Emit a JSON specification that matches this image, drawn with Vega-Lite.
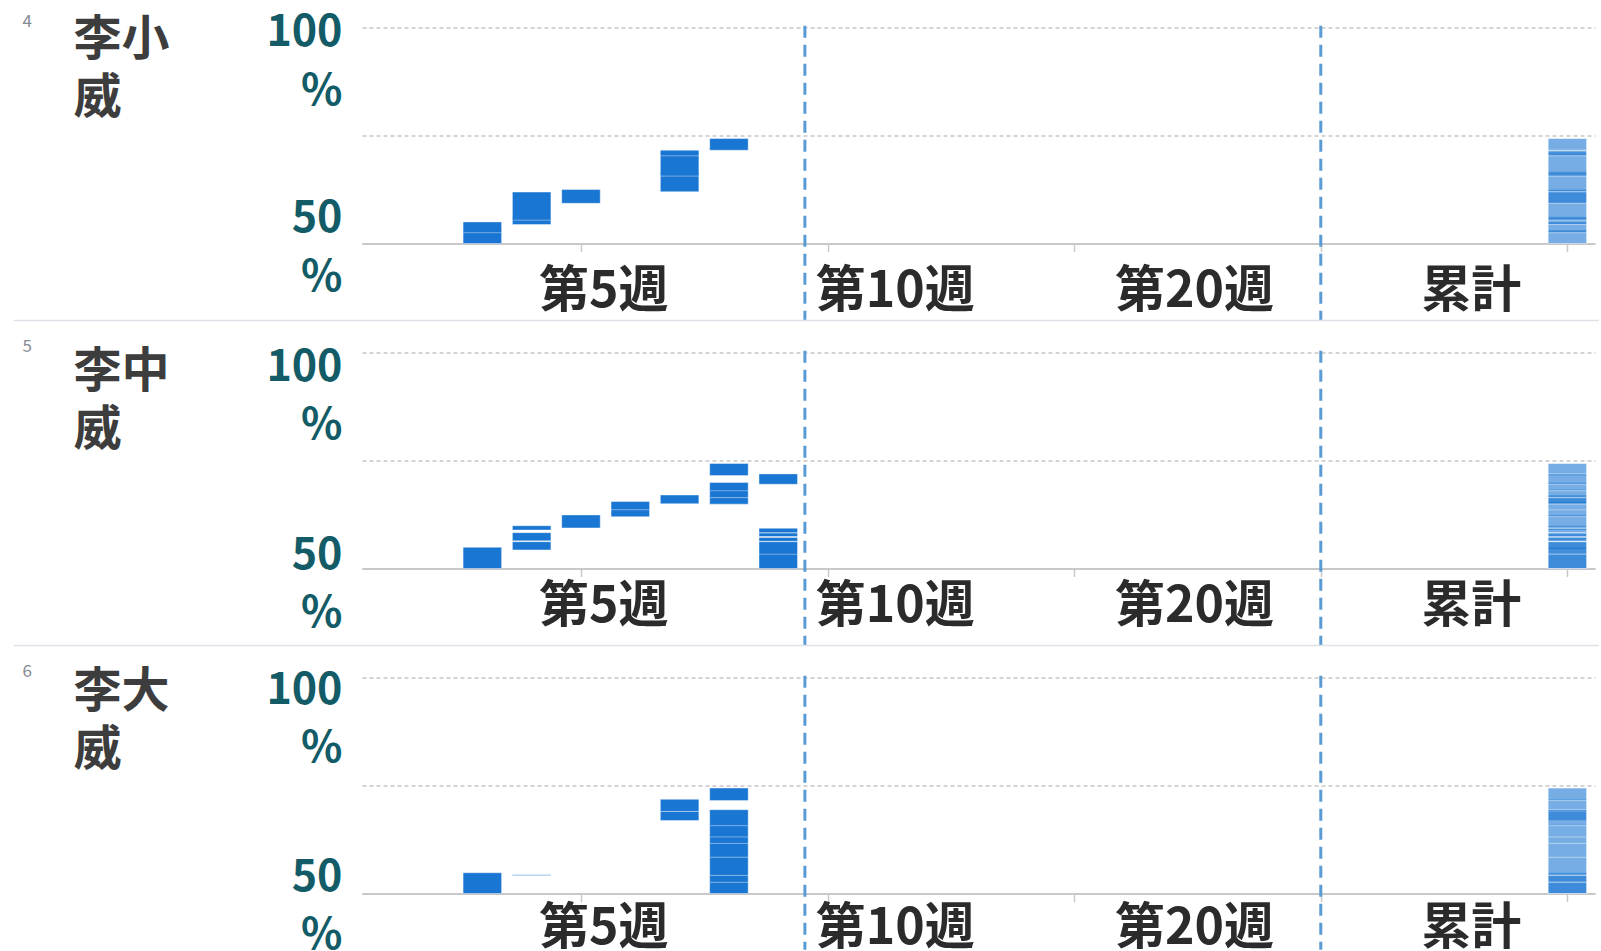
{
  "$schema": "https://vega.github.io/schema/vega-lite/v6.json",
  "background": "white",
  "padding": {"left": 13, "top": 11.5, "right": 0, "bottom": 0},
  "config": {
    "font": "Noto Sans CJK JP",
    "view": {"stroke": null}
  },
  "datasets": {
    "people": [
      {"rank": 4, "person": "李小威"},
      {"rank": 5, "person": "李中威"},
      {"rank": 6, "person": "李大威"}
    ],
    "seps": [{"boundary": 9.54}, {"boundary": 20}],
    "segs": [
      {"person": "李小威", "week": 3, "lo": 50, "hi": 53.1},
      {"person": "李小威", "week": 3, "lo": 52.5, "hi": 55.0},
      {"person": "李小威", "week": 4, "lo": 54.4, "hi": 56.2},
      {"person": "李小威", "week": 4, "lo": 55.4, "hi": 61.9},
      {"person": "李小威", "week": 5, "lo": 59.3, "hi": 62.5},
      {"person": "李小威", "week": 7, "lo": 62.0, "hi": 66.6},
      {"person": "李小威", "week": 7, "lo": 65.6, "hi": 71.2},
      {"person": "李小威", "week": 7, "lo": 70.3, "hi": 71.6},
      {"person": "李小威", "week": 8, "lo": 71.6, "hi": 74.3},

      {"person": "李中威", "week": 3, "lo": 50, "hi": 54.9},
      {"person": "李中威", "week": 4, "lo": 54.3, "hi": 56.2},
      {"person": "李中威", "week": 4, "lo": 56.4, "hi": 58.3},
      {"person": "李中威", "week": 4, "lo": 58.9, "hi": 59.9},
      {"person": "李中威", "week": 5, "lo": 59.4, "hi": 62.4},
      {"person": "李中威", "week": 6, "lo": 62.0, "hi": 63.8},
      {"person": "李中威", "week": 6, "lo": 63.6, "hi": 65.5},
      {"person": "李中威", "week": 7, "lo": 65.0, "hi": 67.0},
      {"person": "李中威", "week": 8, "lo": 64.9, "hi": 66.5},
      {"person": "李中威", "week": 8, "lo": 66.4, "hi": 68.3},
      {"person": "李中威", "week": 8, "lo": 68.0, "hi": 69.9},
      {"person": "李中威", "week": 8, "lo": 71.5, "hi": 74.3},
      {"person": "李中威", "week": 9, "lo": 50, "hi": 53.5},
      {"person": "李中威", "week": 9, "lo": 53.3, "hi": 56.2},
      {"person": "李中威", "week": 9, "lo": 56.3, "hi": 57.2},
      {"person": "李中威", "week": 9, "lo": 57.4, "hi": 58.2},
      {"person": "李中威", "week": 9, "lo": 58.3, "hi": 59.3},
      {"person": "李中威", "week": 9, "lo": 69.5, "hi": 71.9},

      {"person": "李大威", "week": 3, "lo": 50, "hi": 54.8},
      {"person": "李大威", "week": 4, "lo": 54.15, "hi": 54.35},
      {"person": "李大威", "week": 7, "lo": 66.9, "hi": 69.0},
      {"person": "李大威", "week": 7, "lo": 69.0, "hi": 71.8},
      {"person": "李大威", "week": 8, "lo": 50, "hi": 52.7},
      {"person": "李大威", "week": 8, "lo": 52.6, "hi": 54.3},
      {"person": "李大威", "week": 8, "lo": 54.2, "hi": 58.5},
      {"person": "李大威", "week": 8, "lo": 58.4, "hi": 61.7},
      {"person": "李大威", "week": 8, "lo": 61.6, "hi": 63.2},
      {"person": "李大威", "week": 8, "lo": 63.1, "hi": 65.9},
      {"person": "李大威", "week": 8, "lo": 65.7, "hi": 69.4},
      {"person": "李大威", "week": 8, "lo": 71.5, "hi": 74.4}
    ]
  },
  "vconcat": [
    {
      "width": 1233, "height": 216,
      "resolve": {"axis": {"x": "independent", "y": "independent"}},
      "layer": [
        {
          "data": {"name": "segs"},
          "transform": [{"filter": "datum.person == '李小威'"}],
          "mark": {"type": "bar", "size": 38.5, "color": "#1976d2", "stroke": "white", "strokeWidth": 1, "strokeOpacity": 0.4},
          "encoding": {
            "x": {"field": "week", "type": "quantitative", "scale": {"domain": [0.56, 25.56], "nice": false, "zero": false, "padding": 0},
              "axis": {"orient": "bottom", "values": [5, 10, 15, 20, 25], "labels": false, "title": null, "grid": false,
                "domainColor": "#c8c8c8", "domainWidth": 2.2, "tickColor": "#c8c8c8", "tickWidth": 1.5, "tickSize": 8}
            },
            "y": {"field": "lo", "type": "quantitative", "scale": {"domain": [50, 100], "nice": false, "zero": false, "padding": 0},
              "axis": {"orient": "left", "values": [50, 75, 100], "labels": false,
                "title": ["李小", "威"], "titleAngle": 0, "titleAlign": "left", "titleBaseline": "top",
                "titleX": -289, "titleY": -11, "titleFontSize": 48, "titleFontWeight": "bold", "titleColor": "#3d3d3d", "titleLineHeight": 58,
                "grid": true, "gridColor": "#c6c6c6", "gridDash": [4, 3], "gridWidth": 1.5,
                "domain": false, "ticks": false, "tickSize": 0}
            },
            "y2": {"field": "hi"}
          }
        },
        {
          "data": {"name": "segs"},
          "transform": [{"filter": "datum.person == '李小威'"}],
          "mark": {"type": "bar", "size": 38.5, "color": "#1976d2", "fillOpacity": 0.6, "stroke": "white", "strokeWidth": 1, "strokeOpacity": 0.5},
          "encoding": {
            "x": {"datum": 25, "type": "quantitative", "scale": {"domain": [0.56, 25.56], "nice": false, "zero": false, "padding": 0},
              "axis": {"orient": "bottom", "values": [5.45, 11.36, 17.43, 23.04],
                "labelExpr": "datum.value < 6 ? '第5週' : datum.value < 12 ? '第10週' : datum.value < 18 ? '第20週' : '累計'",
                "title": null, "grid": false, "domain": false, "ticks": false, "tickSize": 0,
                "labelFontSize": 50, "labelFontWeight": "bold", "labelColor": "#2b2b2b",
                "labelPadding": 22.5, "labelOverlap": false, "labelFlush": false, "labelBound": false}
            },
            "y": {"field": "lo", "type": "quantitative", "scale": {"domain": [50, 100], "nice": false, "zero": false, "padding": 0},
              "axis": {"orient": "left", "values": [50, 92.95],
                "labelExpr": "datum.value > 70 ? ['100', '%'] : ['50', '%']",
                "title": null, "grid": false, "domain": false, "ticks": false, "tickSize": 0,
                "labelFontSize": 43, "labelFontWeight": "bold", "labelColor": "#135b66", "labelLineHeight": 59,
                "labelPadding": 20, "labelOffset": -25, "labelOverlap": false, "labelFlush": false, "labelBound": false}
            },
            "y2": {"field": "hi"}
          }
        },
        {
          "data": {"name": "seps"},
          "mark": {"type": "rule", "color": "#5b9bd5", "strokeWidth": 3, "strokeDash": [12, 7]},
          "encoding": {
            "x": {"field": "boundary", "type": "quantitative", "scale": {"domain": [0.56, 25.56], "nice": false, "zero": false, "padding": 0}, "axis": null},
            "y": {"datum": 100.4, "type": "quantitative", "scale": {"domain": [50, 100], "nice": false, "zero": false, "padding": 0}, "axis": null},
            "y2": {"datum": 32.2}
          }
        },
        {
          "data": {"name": "people"},
          "transform": [{"filter": "datum.person == '李小威'"}],
          "mark": {"type": "text", "fontSize": 17, "color": "#858b93", "align": "center", "baseline": "middle"},
          "encoding": {
            "text": {"field": "rank"},
            "x": {"datum": -6.23, "type": "quantitative", "scale": {"domain": [0.56, 25.56], "nice": false, "zero": false, "padding": 0}, "axis": null},
            "y": {"datum": 101.2, "type": "quantitative", "scale": {"domain": [50, 100], "nice": false, "zero": false, "padding": 0}, "axis": null}
          }
        },
        {
          "data": {"name": "people"},
          "transform": [{"filter": "datum.person == '李小威'"}],
          "mark": {"type": "rule", "color": "#dde2e8", "strokeWidth": 1.5},
          "encoding": {
            "x": {"datum": -6.5, "type": "quantitative", "scale": {"domain": [0.56, 25.56], "nice": false, "zero": false, "padding": 0}, "axis": null},
            "x2": {"datum": 25.64},
            "y": {"datum": 32.2, "type": "quantitative", "scale": {"domain": [50, 100], "nice": false, "zero": false, "padding": 0}, "axis": null}
          }
        }
      ]
    },
    {
      "width": 1233, "height": 216,
      "resolve": {"axis": {"x": "independent", "y": "independent"}},
      "layer": [
        {
          "data": {"name": "segs"},
          "transform": [{"filter": "datum.person == '李中威'"}],
          "mark": {"type": "bar", "size": 38.5, "color": "#1976d2", "stroke": "white", "strokeWidth": 1, "strokeOpacity": 0.4},
          "encoding": {
            "x": {"field": "week", "type": "quantitative", "scale": {"domain": [0.56, 25.56], "nice": false, "zero": false, "padding": 0},
              "axis": {"orient": "bottom", "values": [5, 10, 15, 20, 25], "labels": false, "title": null, "grid": false,
                "domainColor": "#c8c8c8", "domainWidth": 2.2, "tickColor": "#c8c8c8", "tickWidth": 1.5, "tickSize": 8}
            },
            "y": {"field": "lo", "type": "quantitative", "scale": {"domain": [50, 100], "nice": false, "zero": false, "padding": 0},
              "axis": {"orient": "left", "values": [50, 75, 100], "labels": false,
                "title": ["李中", "威"], "titleAngle": 0, "titleAlign": "left", "titleBaseline": "top",
                "titleX": -289, "titleY": -4.5, "titleFontSize": 48, "titleFontWeight": "bold", "titleColor": "#3d3d3d", "titleLineHeight": 58,
                "grid": true, "gridColor": "#c6c6c6", "gridDash": [4, 3], "gridWidth": 1.5,
                "domain": false, "ticks": false, "tickSize": 0}
            },
            "y2": {"field": "hi"}
          }
        },
        {
          "data": {"name": "segs"},
          "transform": [{"filter": "datum.person == '李中威'"}],
          "mark": {"type": "bar", "size": 38.5, "color": "#1976d2", "fillOpacity": 0.6, "stroke": "white", "strokeWidth": 1, "strokeOpacity": 0.5},
          "encoding": {
            "x": {"datum": 25, "type": "quantitative", "scale": {"domain": [0.56, 25.56], "nice": false, "zero": false, "padding": 0},
              "axis": {"orient": "bottom", "values": [5.45, 11.36, 17.43, 23.04],
                "labelExpr": "datum.value < 6 ? '第5週' : datum.value < 12 ? '第10週' : datum.value < 18 ? '第20週' : '累計'",
                "title": null, "grid": false, "domain": false, "ticks": false, "tickSize": 0,
                "labelFontSize": 50, "labelFontWeight": "bold", "labelColor": "#2b2b2b",
                "labelPadding": 12.5, "labelOverlap": false, "labelFlush": false, "labelBound": false}
            },
            "y": {"field": "lo", "type": "quantitative", "scale": {"domain": [50, 100], "nice": false, "zero": false, "padding": 0},
              "axis": {"orient": "left", "values": [50, 93.47],
                "labelExpr": "datum.value > 70 ? ['100', '%'] : ['50', '%']",
                "title": null, "grid": false, "domain": false, "ticks": false, "tickSize": 0,
                "labelFontSize": 43, "labelFontWeight": "bold", "labelColor": "#135b66", "labelLineHeight": 58,
                "labelPadding": 20, "labelOffset": -13, "labelOverlap": false, "labelFlush": false, "labelBound": false}
            },
            "y2": {"field": "hi"}
          }
        },
        {
          "data": {"name": "seps"},
          "mark": {"type": "rule", "color": "#5b9bd5", "strokeWidth": 3, "strokeDash": [12, 7]},
          "encoding": {
            "x": {"field": "boundary", "type": "quantitative", "scale": {"domain": [0.56, 25.56], "nice": false, "zero": false, "padding": 0}, "axis": null},
            "y": {"datum": 100.4, "type": "quantitative", "scale": {"domain": [50, 100], "nice": false, "zero": false, "padding": 0}, "axis": null},
            "y2": {"datum": 32.2}
          }
        },
        {
          "data": {"name": "people"},
          "transform": [{"filter": "datum.person == '李中威'"}],
          "mark": {"type": "text", "fontSize": 17, "color": "#858b93", "align": "center", "baseline": "middle"},
          "encoding": {
            "text": {"field": "rank"},
            "x": {"datum": -6.23, "type": "quantitative", "scale": {"domain": [0.56, 25.56], "nice": false, "zero": false, "padding": 0}, "axis": null},
            "y": {"datum": 101.2, "type": "quantitative", "scale": {"domain": [50, 100], "nice": false, "zero": false, "padding": 0}, "axis": null}
          }
        },
        {
          "data": {"name": "people"},
          "transform": [{"filter": "datum.person == '李中威'"}],
          "mark": {"type": "rule", "color": "#dde2e8", "strokeWidth": 1.5},
          "encoding": {
            "x": {"datum": -6.5, "type": "quantitative", "scale": {"domain": [0.56, 25.56], "nice": false, "zero": false, "padding": 0}, "axis": null},
            "x2": {"datum": 25.64},
            "y": {"datum": 32.2, "type": "quantitative", "scale": {"domain": [50, 100], "nice": false, "zero": false, "padding": 0}, "axis": null}
          }
        }
      ]
    },
    {
      "width": 1233, "height": 216,
      "resolve": {"axis": {"x": "independent", "y": "independent"}},
      "layer": [
        {
          "data": {"name": "segs"},
          "transform": [{"filter": "datum.person == '李大威'"}],
          "mark": {"type": "bar", "size": 38.5, "color": "#1976d2", "stroke": "white", "strokeWidth": 1, "strokeOpacity": 0.4},
          "encoding": {
            "x": {"field": "week", "type": "quantitative", "scale": {"domain": [0.56, 25.56], "nice": false, "zero": false, "padding": 0},
              "axis": {"orient": "bottom", "values": [5, 10, 15, 20, 25], "labels": false, "title": null, "grid": false,
                "domainColor": "#c8c8c8", "domainWidth": 2.2, "tickColor": "#c8c8c8", "tickWidth": 1.5, "tickSize": 8}
            },
            "y": {"field": "lo", "type": "quantitative", "scale": {"domain": [50, 100], "nice": false, "zero": false, "padding": 0},
              "axis": {"orient": "left", "values": [50, 75, 100], "labels": false,
                "title": ["李大", "威"], "titleAngle": 0, "titleAlign": "left", "titleBaseline": "top",
                "titleX": -289, "titleY": -9.5, "titleFontSize": 48, "titleFontWeight": "bold", "titleColor": "#3d3d3d", "titleLineHeight": 58,
                "grid": true, "gridColor": "#c6c6c6", "gridDash": [4, 3], "gridWidth": 1.5,
                "domain": false, "ticks": false, "tickSize": 0}
            },
            "y2": {"field": "hi"}
          }
        },
        {
          "data": {"name": "segs"},
          "transform": [{"filter": "datum.person == '李大威'"}],
          "mark": {"type": "bar", "size": 38.5, "color": "#1976d2", "fillOpacity": 0.6, "stroke": "white", "strokeWidth": 1, "strokeOpacity": 0.5},
          "encoding": {
            "x": {"datum": 25, "type": "quantitative", "scale": {"domain": [0.56, 25.56], "nice": false, "zero": false, "padding": 0},
              "axis": {"orient": "bottom", "values": [5.45, 11.36, 17.43, 23.04],
                "labelExpr": "datum.value < 6 ? '第5週' : datum.value < 12 ? '第10週' : datum.value < 18 ? '第20週' : '累計'",
                "title": null, "grid": false, "domain": false, "ticks": false, "tickSize": 0,
                "labelFontSize": 50, "labelFontWeight": "bold", "labelColor": "#2b2b2b",
                "labelPadding": 9.5, "labelOverlap": false, "labelFlush": false, "labelBound": false}
            },
            "y": {"field": "lo", "type": "quantitative", "scale": {"domain": [50, 100], "nice": false, "zero": false, "padding": 0},
              "axis": {"orient": "left", "values": [50, 93.24],
                "labelExpr": "datum.value > 70 ? ['100', '%'] : ['50', '%']",
                "title": null, "grid": false, "domain": false, "ticks": false, "tickSize": 0,
                "labelFontSize": 43, "labelFontWeight": "bold", "labelColor": "#135b66", "labelLineHeight": 58,
                "labelPadding": 20, "labelOffset": -16.5, "labelOverlap": false, "labelFlush": false, "labelBound": false}
            },
            "y2": {"field": "hi"}
          }
        },
        {
          "data": {"name": "seps"},
          "mark": {"type": "rule", "color": "#5b9bd5", "strokeWidth": 3, "strokeDash": [12, 7]},
          "encoding": {
            "x": {"field": "boundary", "type": "quantitative", "scale": {"domain": [0.56, 25.56], "nice": false, "zero": false, "padding": 0}, "axis": null},
            "y": {"datum": 100.4, "type": "quantitative", "scale": {"domain": [50, 100], "nice": false, "zero": false, "padding": 0}, "axis": null},
            "y2": {"datum": 37}
          }
        },
        {
          "data": {"name": "people"},
          "transform": [{"filter": "datum.person == '李大威'"}],
          "mark": {"type": "text", "fontSize": 17, "color": "#858b93", "align": "center", "baseline": "middle"},
          "encoding": {
            "text": {"field": "rank"},
            "x": {"datum": -6.23, "type": "quantitative", "scale": {"domain": [0.56, 25.56], "nice": false, "zero": false, "padding": 0}, "axis": null},
            "y": {"datum": 101.2, "type": "quantitative", "scale": {"domain": [50, 100], "nice": false, "zero": false, "padding": 0}, "axis": null}
          }
        }
      ]
    }
  ],
  "spacing": 109,
  "bounds": "flush"
}
